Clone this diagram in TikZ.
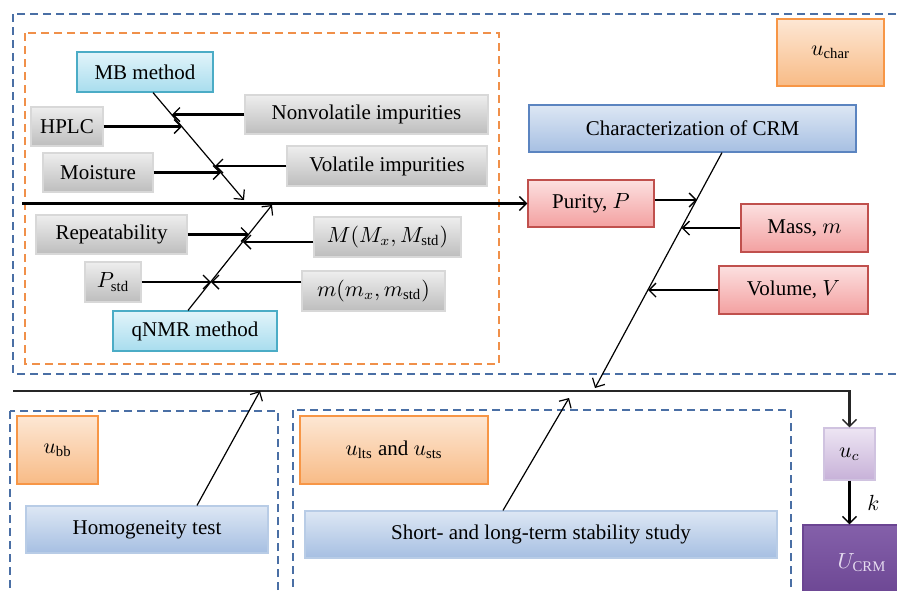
\documentclass[tikz,border=0pt]{standalone}
\usepackage{fontspec}
\setmainfont{Liberation Serif}
\usetikzlibrary{arrows.meta}

\definecolor{dashblue}{HTML}{4A6FA5}
\definecolor{dashorange}{HTML}{F0904A}
\definecolor{greyTop}{HTML}{EEEEEE}
\definecolor{greyBot}{HTML}{BDBDBD}
\definecolor{greyLine}{HTML}{D8D8D8}
\definecolor{cyanTop}{HTML}{E2F4FA}
\definecolor{cyanBot}{HTML}{A8DDEE}
\definecolor{cyanLine}{HTML}{4BACC6}
\definecolor{blueTop}{HTML}{DDE7F4}
\definecolor{blueBot}{HTML}{A6BFE2}
\definecolor{blueLine}{HTML}{5B84C0}
\definecolor{blueLight}{HTML}{B8CCE6}
\definecolor{orTop}{HTML}{FDE7D4}
\definecolor{orBot}{HTML}{F8BB86}
\definecolor{orLine}{HTML}{F79646}
\definecolor{redTop}{HTML}{FCE0E0}
\definecolor{redBot}{HTML}{F3A0A0}
\definecolor{redLine}{HTML}{C0504D}
\definecolor{lilacTop}{HTML}{EDE5F3}
\definecolor{lilacBot}{HTML}{C7B1D8}
\definecolor{lilacLine}{HTML}{D0C3E0}
\definecolor{purpTop}{HTML}{8460AA}
\definecolor{purpBot}{HTML}{6B4592}
\definecolor{purpText}{HTML}{E6DCF0}

\begin{document}
\begin{tikzpicture}[
  x=0.5pt,y=-0.5pt,
  every node/.style={font=\fontsize{10.5}{12}\selectfont},
  arr/.style={line width=1.1pt,-{Straight Barb[length=3.5pt,width=7pt,line width=0.7pt]}},
  bone/.style={line width=0.6pt,-{Straight Barb[length=3.5pt,width=7pt]}},
  box/.style={line width=0.6pt,inner sep=0pt},
  greybox/.style={box,draw=greyLine,top color=greyTop,bottom color=greyBot},
  methbox/.style={box,draw=cyanLine,top color=cyanTop,bottom color=cyanBot},
  stepbox/.style={box,draw=blueLine,top color=blueTop,bottom color=blueBot},
  ubox/.style={box,draw=orLine,top color=orTop,bottom color=orBot},
  inbox/.style={box,draw=redLine,top color=redTop,bottom color=redBot},
  frame/.style={dashed,dash pattern=on 4pt off 2.5pt,line width=0.6pt},
]
  \useasboundingbox (0,0) rectangle (897,590);
  \clip (0,0) rectangle (897,590);

  % dashed frames
  \draw[frame,dashblue] (13,14) rectangle (920,374);
  \draw[frame,dashorange] (25,33) rectangle (499,364);
  \draw[frame,dashblue] (10,411) rectangle (278,620);
  \draw[frame,dashblue] (293,410) rectangle (791,620);

  % characterization part
  \node[methbox,minimum width=68pt,minimum height=20pt] (mb) at (145,72) {MB method};
  \node[greybox,minimum width=36pt,minimum height=19.5pt] (hplc) at (67,126.5) {HPLC};
  \node[greybox,minimum width=55pt,minimum height=19.5pt] (moist) at (98,172.5) {Moisture};
  \node[greybox,minimum width=121.5pt,minimum height=19.5pt] (nonvol) at (366.5,114.5) {Nonvolatile impurities};
  \node[greybox,minimum width=100pt,minimum height=20pt] (vol) at (387,166) {Volatile impurities};
  \node[greybox,minimum width=75.5pt,minimum height=19.5pt] (rep) at (111.5,234.5) {Repeatability};
  \node[greybox,minimum width=28pt,minimum height=20pt] (pstd) at (113,282) {$P_{\mathrm{std}}$};
  \node[greybox,minimum width=73.5pt,minimum height=20pt] (molm) at (387.5,237) {$M(M_x,M_{\mathrm{std}})$};
  \node[greybox,minimum width=71.5pt,minimum height=20pt] (mass2) at (373.5,291) {$m(m_x,m_{\mathrm{std}})$};
  \node[methbox,minimum width=82pt,minimum height=20pt] (qnmr) at (195,331) {qNMR method};

  \node[stepbox,minimum width=163.5pt,minimum height=23.5pt] (crm) at (692.5,128.5) {Characterization of CRM};
  \node[ubox,minimum width=53.5pt,minimum height=33.5pt] (uchar) at (830.5,52.5) {$u_{\mathrm{char}}$};
  \node[inbox,minimum width=63pt,minimum height=23.5pt] (purity) at (591,203.5) {Purity, $P$};
  \node[inbox,minimum width=63.5pt,minimum height=24pt] (mass) at (804.5,228) {Mass, $m$};
  \node[inbox,minimum width=74.5pt,minimum height=24pt] (volume) at (793.5,290) {Volume, $V$};

  % homogeneity and stability
  \node[ubox,minimum width=40.5pt,minimum height=34pt] (ubb) at (57.5,450) {$u_{\mathrm{bb}}$};
  \node[stepbox,draw=blueLight,minimum width=121pt,minimum height=23.5pt] (homog) at (147,529.5) {Homogeneity test};
  \node[ubox,minimum width=94pt,minimum height=34pt] (ults) at (394,450) {$u_{\mathrm{lts}}$ and $u_{\mathrm{sts}}$};
  \node[stepbox,draw=blueLight,minimum width=236pt,minimum height=23.5pt] (stab) at (541,534.5) {Short- and long-term stability study};

  % combined uncertainty
  \node[box,draw=lilacLine,top color=lilacTop,bottom color=lilacBot,minimum width=25.5pt,minimum height=26pt] (uc) at (849.5,454) {$u_c$};
  \node[box,draw=purpBot,top color=purpTop,bottom color=purpBot,text=purpText,minimum width=59pt,minimum height=37.5pt] (ucrm) at (862,562.5) {$U_{\mathrm{CRM}}$};

  % fishbone points
  \coordinate (spine) at (22,203.5);
  \coordinate (mbh) at (244,200);
  \coordinate (mb1) at (172,114.5);
  \coordinate (mb2) at (182,126.5);
  \coordinate (mb3) at (215,166);
  \coordinate (mb4) at (221,172.5);
  \coordinate (qnh) at (272,205);
  \coordinate (qn1) at (249,234.5);
  \coordinate (qn2) at (243,242);
  \coordinate (qn3) at (211,282);
  \coordinate (cr0) at (595,388);
  \coordinate (cr1) at (697,200);
  \coordinate (cr2) at (681.5,228);
  \coordinate (cr3) at (648,290);
  \coordinate (base) at (13,391);
  \coordinate (hoh) at (260,391);
  \coordinate (sth) at (569,398);

  \draw[arr] (spine) -- (purity.west);
  \draw[bone] ([xshift=4pt]mb.south) -- (mbh);
  \draw[arr] (nonvol.west) -- (mb1);
  \draw[arr] (hplc.east) -- (mb2);
  \draw[arr] (vol.west) -- (mb3);
  \draw[arr] (moist.east) -- (mb4);
  \draw[bone] ([xshift=-3.5pt]qnmr.north) -- (qnh);
  \draw[arr] (rep.east) -- (qn1);
  \draw[arr] (molm.west |- qn2) -- (qn2);
  \draw[arr] (pstd.east |- qn3) -- (qn3);
  \draw[arr] (mass2.west |- qn3) -- (qn3);

  \draw[bone] ([xshift=14.75pt]crm.south) -- (cr0);
  \draw[arr] (purity.east |- cr1) -- (cr1);
  \draw[arr] (mass.west) -- (cr2);
  \draw[arr] (volume.west) -- (cr3);

  \draw[arr,black!85] (base) -| (uc.north);
  \draw[bone] ([xshift=25pt]homog.north) -- (hoh);
  \draw[bone] ([xshift=-19pt]stab.north) -- (sth);
  \draw[arr] (uc.south) -- node[right=5pt] {$k$} (uc.south |- ucrm.north);
\end{tikzpicture}
\end{document}
